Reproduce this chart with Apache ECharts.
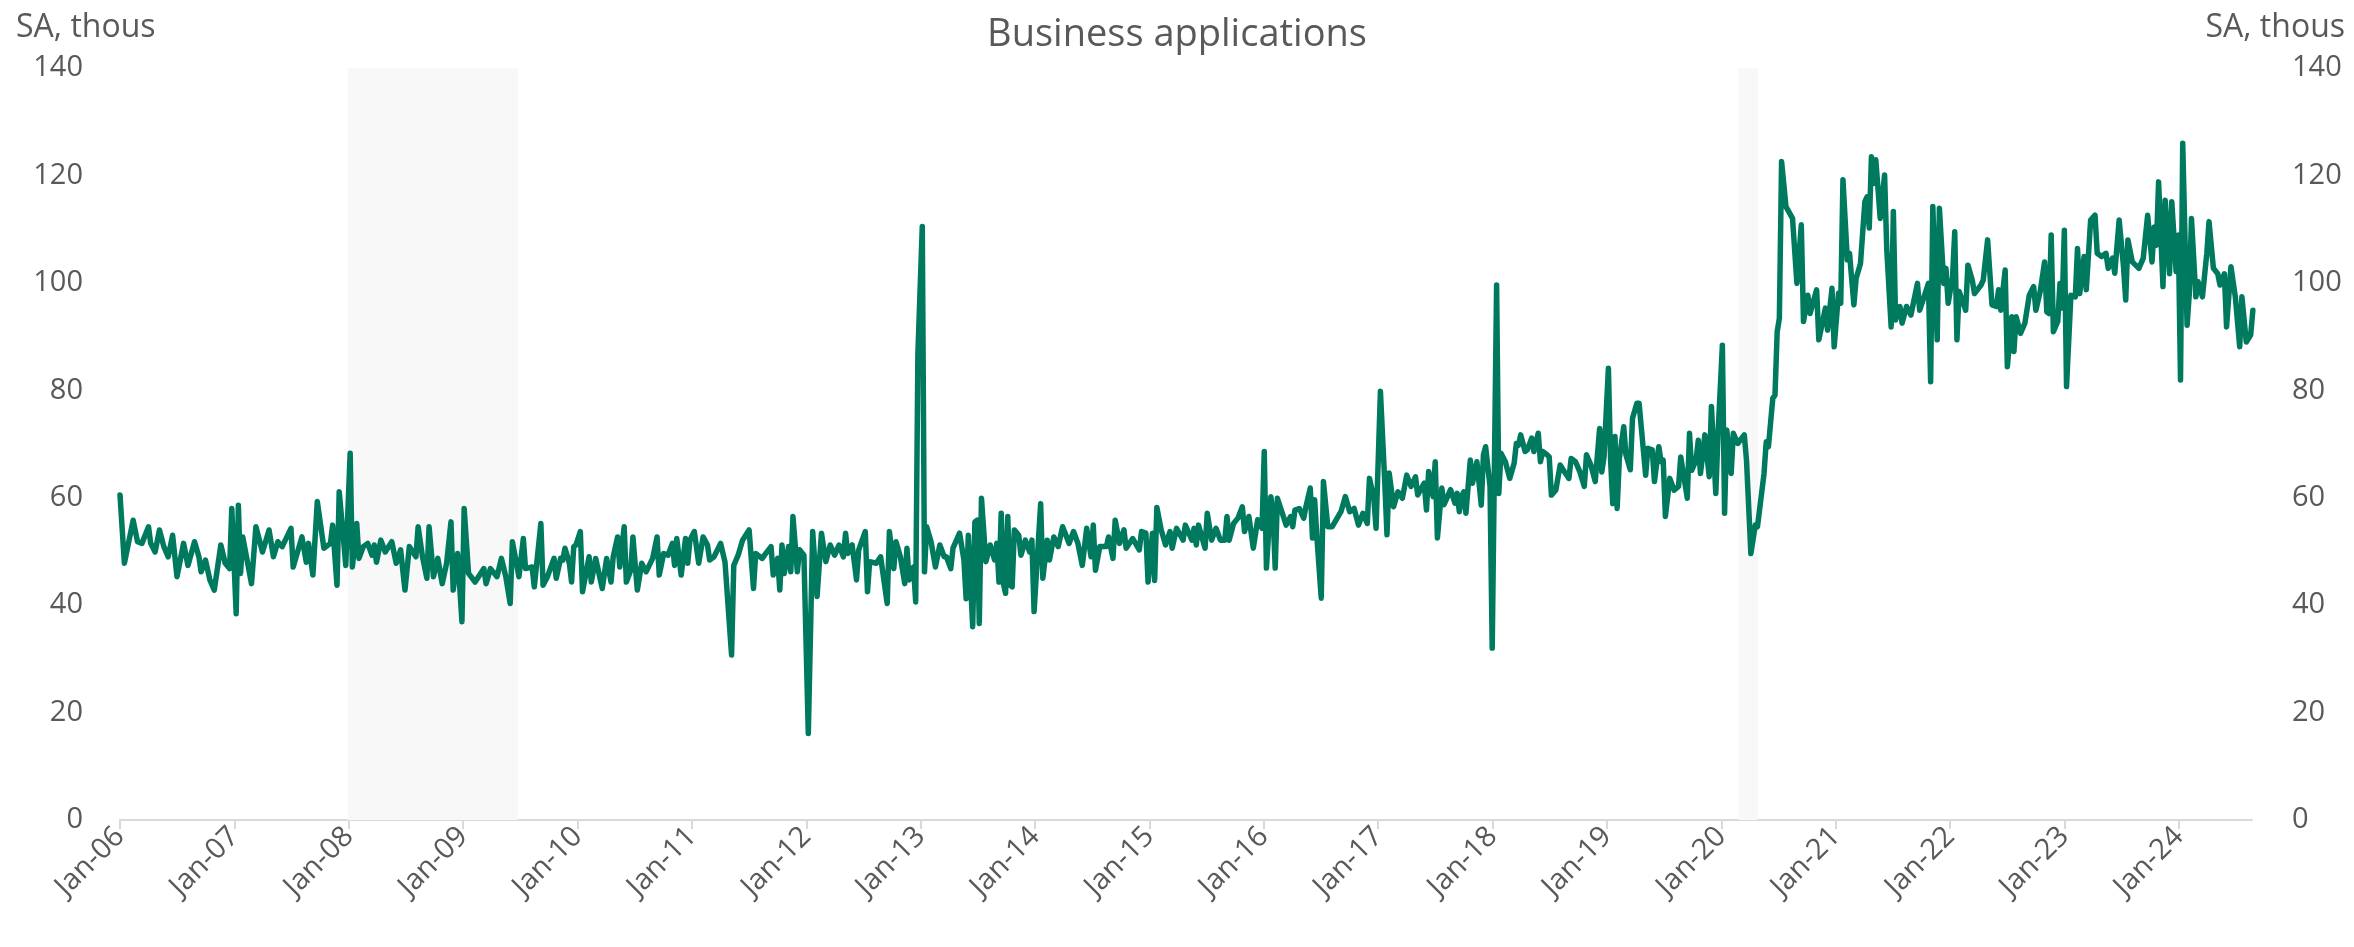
<!DOCTYPE html>
<html><head><meta charset="utf-8">
<script src="https://cdn.jsdelivr.net/npm/echarts@6/dist/echarts.min.js"></script>
<style>html,body{margin:0;padding:0;background:#fff}#c{width:2354px;height:947px}</style>
</head><body><div id="c"></div>
<script>
// Weekly business applications (SA, thous). Pairs: [weeks since first week of Jan 2006, value]
const s2006_07 = [[0,60.5],[2,47.8],[4,51.8],[6,55.8],[8,51.8],[10,51.5],[13,54.6],[14,51.5],[16,49.9],[18,54],[20,50.9],[22,49],[24,53],[26,45.3],[29,51.5],[31,47.4],[34,51.8],[36,49],[37,46.2],[39,48.4],[41,44.7],[43,42.8],[46,51.2],[48,47.8],[50,46.8],[51,58],[53,38.4],[54,58.6],[55,45.9],[56,52.7],[60,44],[62,54.6],[65,49.9],[68,54],[70,49],[72,51.8],[74,50.9],[78,54.3],[79,47.1],[83,52.7],[85,48],[86,51.5],[88,45.6],[90,59.3],[93,50.6]];
const s2008_09 = [[96,51.5],[97,54.9],[99,43.7],[100,61.1],[102,52.1],[103,47.4],[105,68.3],[106,47.1],[108,55.2],[109,48.7],[111,50.9],[113,51.5],[115,49.3],[116,51.2],[117,48],[119,52.1],[121,49.9],[124,51.8],[126,47.8],[128,50.3],[130,42.8],[132,50.9],[135,49],[136,54.6],[138,49],[140,45],[141,54.6],[143,45.3],[145,48.7],[147,44],[149,47.8],[151,55.5],[152,42.8],[154,49.6],[156,36.9],[157,58],[159,45.9],[162,44.3],[166,46.8],[167,44],[169,46.8],[172,45.3],[174,48.7],[176,45.3],[178,40.3],[179,51.8],[182,45.3],[184,52.4],[185,46.8],[188,47.1],[189,43.4]];
const s2010_11 = [[192,55.2],[193,43.7],[195,45.3],[198,48.7],[199,45],[201,48.7],[202,48.4],[203,50.6],[205,47.8],[206,44.3],[207,50.9],[208,51.2],[210,53.7],[211,42.5],[214,49],[215,44.3],[217,48.7],[220,43.1],[222,48.7],[224,44.3],[225,49],[227,52.7],[228,47.1],[230,54.6],[231,44.3],[233,46.5],[234,52.7],[236,42.8],[238,47.8],[240,46.2],[243,48.7],[245,52.7],[246,45.6],[248,49.6],[250,49.3],[252,51.5],[253,47.4],[254,52.4],[256,45.6],[258,52.4],[259,47.8],[260,52.1],[262,53.7],[264,47.8],[266,52.7],[268,51.2],[269,48.4],[271,49],[274,51.5],[276,48],[279,30.7],[280,47.4],[282,49.3],[284,52.1],[287,54],[289,43.1],[290,49.6],[293,48.7],[294,49.3]];
const s2012_13 = [[297,50.9],[298,45.6],[300,48.7],[301,42.8],[302,51.2],[303,45.9],[305,50.9],[306,46.2],[307,56.5],[309,46.2],[310,50.3],[312,49.3],[314,16.1],[316,53.7],[318,41.6],[320,53.4],[322,48.1],[324,51.2],[326,49.3],[328,51.2],[330,49],[331,53.4],[332,49.6],[334,51.2],[336,44.7],[337,50.3],[340,53.7],[341,42.5],[342,48.1],[345,47.8],[347,49],[350,40.3],[351,53.7],[353,46.8],[354,51.8],[356,49],[358,44],[359,50.6],[360,44.7],[362,47.1],[363,40.6],[364,86.9],[366,110.5],[367,46.2],[368,54.6],[370,51.8],[372,47.1],[374,51.2],[376,49],[377,49],[379,46.8],[380,50.6],[383,53.4],[385,48.4],[386,41.2],[387,53],[389,36],[390,55.5],[391,55.8],[392,36.6],[393,59.9],[395,48.1],[397,51.2],[399,48.4]];
const s2014_15 = [[400,51.5],[401,44.3],[402,57.1],[403,44],[404,42.2],[405,56.5],[406,43.7],[407,43.4],[408,54],[410,53],[411,49.3],[413,52.1],[415,49.9],[416,52.1],[417,38.8],[420,58.9],[421,45],[423,52.1],[424,48.4],[426,52.7],[428,50.9],[430,54.6],[433,51.5],[435,53.7],[437,51.5],[439,47.4],[441,54.3],[443,49],[444,54.9],[445,46.5],[447,50.9],[450,50.9],[451,52.7],[453,48.7],[454,55.8],[456,51.5],[458,54],[459,50.6],[462,52.4],[465,50.3],[466,53.7],[468,53.4],[469,44.3],[471,53.4],[472,44.6],[473,58.2],[475,54],[477,51.2],[479,53.7],[480,50.6],[482,54.3],[485,52.1],[486,54.9],[489,52.1],[490,54.3],[491,51.2],[492,54.9],[495,50.6],[496,57.1],[498,52.1],[500,54.3],[502,52.1],[504,52.1]];
const s2016_17 = [[505,56.5],[506,52.1],[508,55.2],[510,56.2],[512,58.3],[513,53.7],[515,56.5],[517,50.6],[519,55.9],[521,54.3],[522,68.6],[523,46.9],[525,60.2],[526,57.1],[527,46.9],[528,59.9],[530,57.4],[532,54.9],[534,56.5],[535,54.6],[536,57.7],[538,58],[540,56.2],[541,58.3],[543,61.8],[544,52.5],[545,59.6],[546,52.8],[548,41.3],[549,63],[551,54.6],[553,54.6],[557,57.4],[559,60.2],[561,57.4],[563,58],[565,54.9],[567,57.1],[569,55.2],[570,63.6],[572,59.9],[573,54.3],[575,79.8],[577,62.7],[578,53.1],[579,64.6],[581,58.3],[583,61.1],[585,59.9],[587,64.2],[589,62.1],[591,63.9],[592,60.5],[595,62.7],[596,57.7],[597,64.9],[599,60.2],[600,66.7],[601,52.5],[603,61.8],[604,58.7],[607,61.5],[609,59]];
const s2018_19 = [[610,60.8],[611,57.4],[612,60.2],[613,61.1],[614,57.1],[616,67],[617,62.7],[619,66.7],[620,62.7],[621,58.6],[622,68],[623,69.5],[625,62.1],[626,32],[628,99.6],[629,60.8],[630,68.3],[632,66.7],[634,63.6],[636,66.4],[637,70.1],[638,69.8],[639,71.7],[641,68.6],[642,68.9],[644,71.1],[645,68.6],[647,72],[648,66.7],[649,68.6],[651,68],[652,67.6],[653,60.5],[655,61.4],[657,66.1],[659,64.8],[661,63.6],[662,67.3],[664,66.7],[666,64.8],[668,62.1],[669,68],[671,66.1],[673,63],[675,72.9],[676,64.8],[677,67.6],[679,84.1],[680,67],[681,58.9],[682,71.4],[683,58],[684,67.3],[686,73.2],[687,68],[689,65.2],[690,74.8],[692,77.6],[693,77.6],[696,64.2],[697,69.2],[699,68.9],[700,63],[702,69.5],[703,66.7],[704,67],[705,56.5],[707,63.6],[709,61.4],[711,62.1],[712,67.6]];
const s2020_21 = [[715,59.9],[716,72],[717,65.1],[719,67],[720,70.7],[721,64.5],[722,67.9],[723,71.7],[725,63.9],[726,77],[728,60.8],[729,71.7],[731,88.4],[732,57.1],[733,72.6],[735,64.5],[736,72],[738,70.1],[741,71.7],[742,67],[744,49.6],[746,54.9],[747,54.6],[750,64.5],[751,70.4],[752,69.5],[754,78.5],[755,79.1],[756,90.9],[757,93.4],[758,122.6],[760,114.2],[763,112],[765,99.9],[767,110.8],[768,92.8],[770,97.7],[771,94.3],[774,98.7],[775,89.4],[778,95.3],[779,91.2],[781,99],[782,88.1],[784,98.1],[785,96.2],[786,119.2],[788,104.3],[789,105.5],[791,95.9],[792,100.8],[794,103.6],[796,115.1],[797,116],[798,110.2],[799,123.5],[800,118.5],[801,122.9],[803,112],[805,120.1],[806,106.1],[808,91.8],[809,113.3],[810,93.1],[812,95.6],[813,92.5],[815,95.6],[817,94]];
const s2022_23 = [[820,99.9],[821,94.9],[823,97.4],[825,99.9],[826,81.6],[827,114.2],[829,89.4],[830,113.9],[832,99.9],[833,102.7],[834,96.2],[836,101.1],[837,109.5],[838,89.4],[839,98.4],[842,94.9],[843,103.3],[845,100.5],[846,98],[849,99.6],[850,100.5],[852,108],[854,95.9],[856,95.6],[857,98.7],[858,94.9],[860,102.4],[861,84.4],[863,93.7],[864,87.2],[865,93.7],[867,90.6],[869,92.5],[871,97.7],[873,99.3],[874,94.9],[876,98.4],[878,103.9],[879,94.6],[880,94.3],[881,108.9],[882,90.9],[884,92.8],[885,99.9],[886,95.3],[887,109.8],[888,80.7],[890,97.7],[892,97.4],[893,106.4],[894,98],[896,104.9],[897,98.7],[899,111.7],[901,112.6],[902,105.5],[904,104.9],[906,105.5],[907,102.7],[909,104.6],[910,101.8],[912,111.7],[914,103],[915,96.8],[916,108],[918,103.9],[921,102.7],[923,104.6]];
const s2024 = [[925,112.6],[927,103.9],[928,110.4],[929,107],[930,118.8],[932,99.3],[933,115.4],[935,101.7],[936,115.1],[938,102.1],[939,108.9],[940,81.9],[941,126],[943,92.1],[944,98],[945,112],[947,97.4],[948,100.2],[950,97.4],[952,105.5],[953,111.4],[955,102.7],[957,101.7],[958,99.6],[960,101.7],[961,91.8],[963,103],[965,97.4],[967,88.1],[968,97.4],[970,89],[972,90.3],[973,94.9]];

const tickYears = [2006,2007,2008,2009,2010,2011,2012,2013,2014,2015,2016,2017,2018,2019,2020,2021,2022,2023,2024];
const yTicks = [0,20,40,60,80,100,120,140];
const recessions = [[2007.99, 2009.48], [2020.15, 2020.32]];
const titleText = 'Business applications';
const unitText = 'SA, thous';

const toYear = w => 2006 + w * 7 / 365.25;
const lineData = [].concat(s2006_07, s2008_09, s2010_11, s2012_13, s2014_15, s2016_17, s2018_19, s2020_21, s2022_23, s2024)
  .map(p => [toYear(p[0]), p[1]]);

const FONT = 'Open Sans';
const GREY = '#595959';
const chart = echarts.init(document.getElementById('c'), null, {renderer: 'canvas'});
const yAxisBase = {
  type: 'value', min: yTicks[0], max: yTicks[yTicks.length - 1], interval: 20,
  splitLine: {show: false}, axisLine: {show: false}, axisTick: {show: false},
  axisLabel: {color: GREY, fontFamily: FONT, fontSize: 29}
};
chart.setOption({
  animation: false,
  backgroundColor: '#ffffff',
  title: [
    {text: titleText, left: 'center', top: 11, textStyle: {color: GREY, fontFamily: FONT, fontSize: 38, fontWeight: 'normal'}},
    {text: unitText, left: 11, top: 7, textStyle: {color: GREY, fontFamily: FONT, fontSize: 32, fontWeight: 'normal'}},
    {text: unitText, right: 4, top: 7, textStyle: {color: GREY, fontFamily: FONT, fontSize: 32, fontWeight: 'normal'}}
  ],
  grid: {left: 120, right: 102, top: 68, bottom: 127, containLabel: false},
  xAxis: {
    type: 'value', min: 2006, max: 2024.64, interval: 1,
    splitLine: {show: false},
    axisLine: {show: true, lineStyle: {color: '#d9d9d9', width: 2}},
    axisTick: {show: true, customValues: tickYears, length: 9, lineStyle: {color: '#d9d9d9', width: 2}},
    axisLabel: {
      customValues: tickYears, rotate: 45, margin: 12, color: GREY, fontFamily: FONT, fontSize: 29,
      formatter: v => 'Jan-' + String(Math.round(v) % 100).padStart(2, '0')
    }
  },
  yAxis: [
    Object.assign({}, yAxisBase, {position: 'left', axisLabel: Object.assign({}, yAxisBase.axisLabel, {margin: 37})}),
    Object.assign({}, yAxisBase, {position: 'right', axisLabel: Object.assign({}, yAxisBase.axisLabel, {margin: 40})})
  ],
  series: [{
    name: titleText, type: 'line', data: lineData, showSymbol: false, smooth: false,
    lineStyle: {color: '#007a5e', width: 5.5, join: 'round', cap: 'round'},
    itemStyle: {color: '#007a5e'},
    z: 3,
    markArea: {
      silent: true,
      itemStyle: {color: '#f8f8f8'},
      data: recessions.map(r => [{xAxis: r[0]}, {xAxis: r[1]}])
    }
  }]
});
</script></body></html>
